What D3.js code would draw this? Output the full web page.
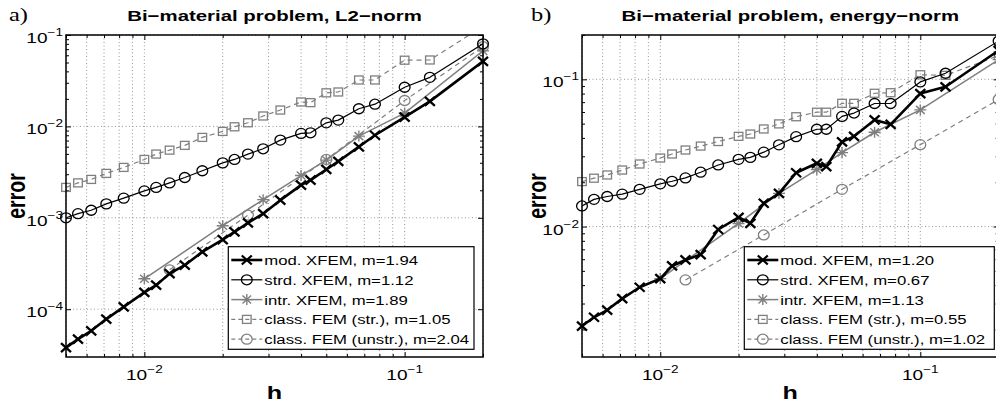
<!DOCTYPE html>
<html><head><meta charset="utf-8">
<script src="https://cdn.jsdelivr.net/npm/d3@7"></script>
<style>
html,body{margin:0;padding:0;background:#fff;}
svg{display:block;}
text{font-family:"Liberation Sans",Arial,Helvetica,sans-serif;fill:#000;}
</style></head>
<body>
<svg id="chart" width="996" height="407"></svg>
<script>
// ---------------- data ----------------
const H = [0.005, 0.00556, 0.00625, 0.00714, 0.00833, 0.01, 0.0111, 0.0125, 0.0143, 0.0167, 0.02, 0.0222,
           0.025, 0.0286, 0.0333, 0.04, 0.0435, 0.05, 0.0556, 0.0667, 0.0769, 0.1, 0.125, 0.2];
const H_INTR = [0.01, 0.02, 0.0286, 0.04, 0.05, 0.0667, 0.1, 0.2];
const H_UNSTR = [0.0125, 0.025, 0.05, 0.1, 0.2];

// panel a) L2-norm
const modL2 = [3.8e-5, 4.7e-5, 5.8e-5, 7.8e-5, 1.06e-4, 1.53e-4, 1.83e-4, 2.45e-4, 3.03e-4, 4.24e-4, 5.78e-4, 7.0e-4,
               8.8e-4, 1.11e-3, 1.56e-3, 2.28e-3, 2.58e-3, 3.38e-3, 4.14e-3, 5.98e-3, 8.0e-3, 1.26e-2, 1.88e-2, 5.15e-2];
const strdL2 = [1.0e-3, 1.11e-3, 1.21e-3, 1.42e-3, 1.64e-3, 1.97e-3, 2.15e-3, 2.41e-3, 2.76e-3, 3.27e-3, 3.99e-3, 4.35e-3,
                4.98e-3, 5.69e-3, 7.08e-3, 8.38e-3, 8.51e-3, 1.094e-2, 1.172e-2, 1.56e-2, 1.75e-2, 2.68e-2, 3.44e-2, 8.0e-2];
const intrL2 = [2.15e-4, 8.2e-4, 1.58e-3, 2.9e-3, 4.28e-3, 7.83e-3, 1.4e-2, 6.7e-2];
const classStrL2 = [2.15e-3, 2.41e-3, 2.63e-3, 3.06e-3, 3.56e-3, 4.35e-3, 4.98e-3, 5.5e-3, 6.2e-3, 7.58e-3, 8.81e-3, 9.9e-3,
                    1.096e-2, 1.3e-2, 1.51e-2, 1.85e-2, 1.82e-2, 2.33e-2, 2.38e-2, 3.22e-2, 3.22e-2, 5.3e-2, 5.33e-2, 1.24e-1];
const classUnL2 = [2.7e-4, 1.07e-3, 4.35e-3, 1.92e-2, 7.45e-2];
const legendL2 = ["mod. XFEM, m=1.94", "strd. XFEM, m=1.12", "intr. XFEM, m=1.89",
                  "class. FEM (str.), m=1.05", "class. FEM (unstr.), m=2.04"];

// panel b) energy-norm
const modEn = [2.11e-3, 2.42e-3, 2.71e-3, 3.24e-3, 3.87e-3, 4.43e-3, 5.4e-3, 5.93e-3, 6.45e-3, 9.55e-3, 1.156e-2, 1.052e-2,
               1.44e-2, 1.68e-2, 2.32e-2, 2.69e-2, 2.55e-2, 3.76e-2, 4.1e-2, 5.3e-2, 4.95e-2, 8.0e-2, 8.9e-2, 1.57e-1];
const strdEn = [1.38e-2, 1.53e-2, 1.6e-2, 1.66e-2, 1.79e-2, 1.95e-2, 2.03e-2, 2.14e-2, 2.34e-2, 2.62e-2, 2.86e-2, 2.95e-2,
                3.2e-2, 3.59e-2, 4.08e-2, 4.58e-2, 4.58e-2, 5.6e-2, 5.9e-2, 6.85e-2, 6.85e-2, 9.6e-2, 1.1e-1, 1.82e-1];
const intrEn = [4.43e-3, 1.05e-2, 1.68e-2, 2.44e-2, 3.18e-2, 4.37e-2, 6.2e-2, 1.36e-1];
const classStrEn = [2.02e-2, 2.13e-2, 2.24e-2, 2.42e-2, 2.66e-2, 2.92e-2, 3.11e-2, 3.31e-2, 3.52e-2, 3.78e-2, 4.1e-2, 4.25e-2,
                    4.6e-2, 4.98e-2, 5.57e-2, 5.98e-2, 5.98e-2, 6.87e-2, 6.87e-2, 8.04e-2, 8.11e-2, 1.074e-1, 1.064e-1, 1.45e-1];
const classUnEn = [4.34e-3, 8.77e-3, 1.79e-2, 3.6e-2, 7.3e-2];
const legendEn = ["mod. XFEM, m=1.20", "strd. XFEM, m=0.67", "intr. XFEM, m=1.13",
                  "class. FEM (str.), m=0.55", "class. FEM (unstr.), m=1.02"];

const titles = ["Bi\u2212material problem, L2\u2212norm", "Bi\u2212material problem, energy\u2212norm"];
const tags = ["a)", "b)"];
const xTickExp = [-2, -1];
const yTickExpL2 = [-4, -3, -2, -1];
const yTickExpEn = [-2, -1];

// ---------------- styles / layout ----------------
const SX = 1.36;  // horizontal stretch of the original figure text
const GRAY = "#7f7f7f";
const seriesStyles = [
  {color: "#000", width: 2.6, dash: null, marker: "x"},
  {color: "#000", width: 1.2, dash: null, marker: "o"},
  {color: GRAY, width: 1.5, dash: null, marker: "*"},
  {color: GRAY, width: 1.2, dash: "5,4", marker: "s"},
  {color: GRAY, width: 1.2, dash: "5,4", marker: "o"}
];

const svg = d3.select("#chart");

function stext(parent, x, y, opts) {
  const sx = opts.sx || SX;
  const g = parent.append("g").attr("transform", `translate(${x},${y}) ${opts.rotate ? "rotate(-90) scale(1," + sx + ")" : "scale(" + sx + ",1)"}`);
  const t = g.append("text")
    .attr("text-anchor", opts.anchor || "start")
    .style("font-size", (opts.size || 14) + "px")
    .style("font-weight", opts.bold ? "bold" : "normal");
  if (opts.family) t.style("font-family", opts.family);
  return t;
}

function powLabel(parent, x, y, exp, anchor) {
  const t = stext(parent, x, y, {anchor: anchor, size: 14});
  t.append("tspan").text("10");
  t.append("tspan").attr("dy", -7).style("font-size", "10px").text("\u2212" + Math.abs(exp));
}

function drawMarker(g, type, cx, cy, color) {
  if (type === "x") {
    g.append("path").attr("d", `M${cx-5},${cy-4.5}L${cx+5},${cy+4.5}M${cx-5},${cy+4.5}L${cx+5},${cy-4.5}`)
      .attr("stroke", color).attr("stroke-width", 2.3).attr("fill", "none");
  } else if (type === "o") {
    g.append("ellipse").attr("cx", cx).attr("cy", cy).attr("rx", 5.4).attr("ry", 5)
      .attr("stroke", color).attr("stroke-width", 1.3).attr("fill", "none");
  } else if (type === "s") {
    g.append("rect").attr("x", cx-4.3).attr("y", cy-4).attr("width", 8.6).attr("height", 8)
      .attr("stroke", color).attr("stroke-width", 1.3).attr("fill", "none");
  } else if (type === "*") {
    g.append("path").attr("d", `M${cx-6},${cy}L${cx+6},${cy}M${cx},${cy-5.5}L${cx},${cy+5.5}M${cx-4.3},${cy-4}L${cx+4.3},${cy+4}M${cx-4.3},${cy+4}L${cx+4.3},${cy-4}`)
      .attr("stroke", color).attr("stroke-width", 1.4).attr("fill", "none");
  }
}

function drawPanel(p, idx) {
  const x = d3.scaleLog().domain([0.005, 0.2]).range([p.x0, p.x1]);
  const y = d3.scaleLog().domain(p.yDomain).range([p.y1, p.y0]);
  const g = svg.append("g");

  const clipId = "clip" + idx;
  g.append("clipPath").attr("id", clipId).append("rect")
    .attr("x", p.x0).attr("y", p.y0).attr("width", p.x1 - p.x0).attr("height", p.y1 - p.y0);

  const xMinor = [], yMinor = [];
  for (let e = -3; e <= 0; e++) for (let m = 2; m <= 9; m++) {
    const v = m * Math.pow(10, e);
    if (v >= 0.005 && v <= 0.2) xMinor.push(v);
    if (v >= p.yDomain[0] && v <= p.yDomain[1]) yMinor.push(v);
  }
  const xMajor = xTickExp.map(e => Math.pow(10, e));
  const yMajor = p.yExp.map(e => Math.pow(10, e));

  // grid
  const grid = g.append("g").attr("stroke", "#8c8c8c").attr("stroke-width", 0.9).attr("stroke-dasharray", "1,2.5");
  xMajor.concat(xMinor).forEach(v => grid.append("line").attr("x1", x(v)).attr("x2", x(v)).attr("y1", p.y0).attr("y2", p.y1));
  yMajor.forEach(v => grid.append("line").attr("x1", p.x0).attr("x2", p.x1).attr("y1", y(v)).attr("y2", y(v)));

  // axes (ticks inward on all sides)
  const axes = [
    [d3.axisBottom(x), `translate(0,${p.y1})`], [d3.axisTop(x), `translate(0,${p.y0})`]
  ];
  axes.forEach(([ax, tr]) => {
    g.append("g").attr("transform", tr).call(ax.tickValues(xMajor).tickSize(-5).tickFormat("")).call(s => s.select(".domain").remove());
    g.append("g").attr("transform", tr).call(ax.tickValues(xMinor).tickSize(-3).tickFormat("")).call(s => s.select(".domain").remove());
  });
  const yaxes = [
    [d3.axisLeft(y), `translate(${p.x0},0)`], [d3.axisRight(y), `translate(${p.x1},0)`]
  ];
  yaxes.forEach(([ax, tr]) => {
    g.append("g").attr("transform", tr).call(ax.tickValues(yMajor).tickSize(-5).tickFormat("")).call(s => s.select(".domain").remove());
    g.append("g").attr("transform", tr).call(ax.tickValues(yMinor).tickSize(-3).tickFormat("")).call(s => s.select(".domain").remove());
  });
  g.selectAll(".tick line").attr("stroke", "#000").attr("stroke-width", 1);

  // series
  const series = [
    {h: H, v: p.mod}, {h: H, v: p.strd}, {h: H_INTR, v: p.intr}, {h: H, v: p.cstr}, {h: H_UNSTR, v: p.cun}
  ];
  const line = d3.line().x(d => x(d[0])).y(d => y(d[1]));
  const drawOrder = [4, 3, 2, 1, 0];
  drawOrder.forEach(i => {
    const s = series[i], st = seriesStyles[i];
    const pts = s.h.map((h, k) => [h, s.v[k]]);
    g.append("path").attr("d", line(pts)).attr("clip-path", `url(#${clipId})`)
      .attr("fill", "none").attr("stroke", st.color).attr("stroke-width", st.width)
      .attr("stroke-dasharray", st.dash).attr("stroke-linejoin", "round");
    const mg = g.append("g");
    pts.forEach(d => {
      if (d[1] <= p.yDomain[1] * 1.001 && d[1] >= p.yDomain[0]) drawMarker(mg, st.marker, x(d[0]), y(d[1]), st.color);
    });
  });

  // box
  g.append("rect").attr("x", p.x0).attr("y", p.y0).attr("width", p.x1 - p.x0).attr("height", p.y1 - p.y0)
    .attr("fill", "none").attr("stroke", "#000").attr("stroke-width", 1.5);

  // tick labels
  xTickExp.forEach(e => powLabel(g, x(Math.pow(10, e)), p.y1 + 23, e, "middle"));
  p.yExp.forEach(e => powLabel(g, p.x0 - 3, y(Math.pow(10, e)) + 8, e, "end"));

  // title, labels, tag
  stext(g, (p.x0 + p.x1) / 2, 21, {anchor: "middle", size: 15, bold: true}).text(p.title);
  stext(g, (p.x0 + p.x1) / 2, 399, {anchor: "middle", size: 18.5, bold: true}).text("h");
  stext(g, p.ylabX, (p.y0 + p.y1) / 2, {anchor: "middle", size: 19.5, bold: true, rotate: true}).text("error");
  stext(g, p.tagX, 21, {size: 18, family: "'Liberation Serif','Times New Roman',serif"}).text(p.tag);

  // legend
  const lg = g.append("g");
  lg.append("rect").attr("x", p.lx).attr("y", 246.7).attr("width", p.lw).attr("height", 102.6)
    .attr("fill", "#fff").attr("stroke", "#000").attr("stroke-width", 1.2);
  p.legend.forEach((lab, i) => {
    const st = seriesStyles[i];
    const cy = 260 + i * 19.8;
    lg.append("line").attr("x1", p.lx + 3).attr("x2", p.lx + 34).attr("y1", cy).attr("y2", cy)
      .attr("stroke", st.color).attr("stroke-width", st.width).attr("stroke-dasharray", st.dash ? "4,3" : null);
    drawMarker(lg, st.marker, p.lx + 18.5, cy, st.color);
    stext(lg, p.lx + 36, cy + 5, {size: 13.5, sx: 1.24}).text(lab);
  });
}

const panels = [
  {x0: 66, x1: 483, y0: 35, y1: 357, yDomain: [3e-5, 0.1], yExp: yTickExpL2,
   mod: modL2, strd: strdL2, intr: intrL2, cstr: classStrL2, cun: classUnL2, legend: legendL2,
   title: titles[0], tag: tags[0], tagX: 9, lx: 228.3, lw: 245.7, ylabX: 25},
  {x0: 582, x1: 998.6, y0: 35, y1: 357, yDomain: [0.0013, 0.2], yExp: yTickExpEn,
   mod: modEn, strd: strdEn, intr: intrEn, cstr: classStrEn, cun: classUnEn, legend: legendEn,
   title: titles[1], tag: tags[1], tagX: 531, lx: 744.3, lw: 250, ylabX: 546}
];
panels.forEach(drawPanel);
</script>
</body></html>
